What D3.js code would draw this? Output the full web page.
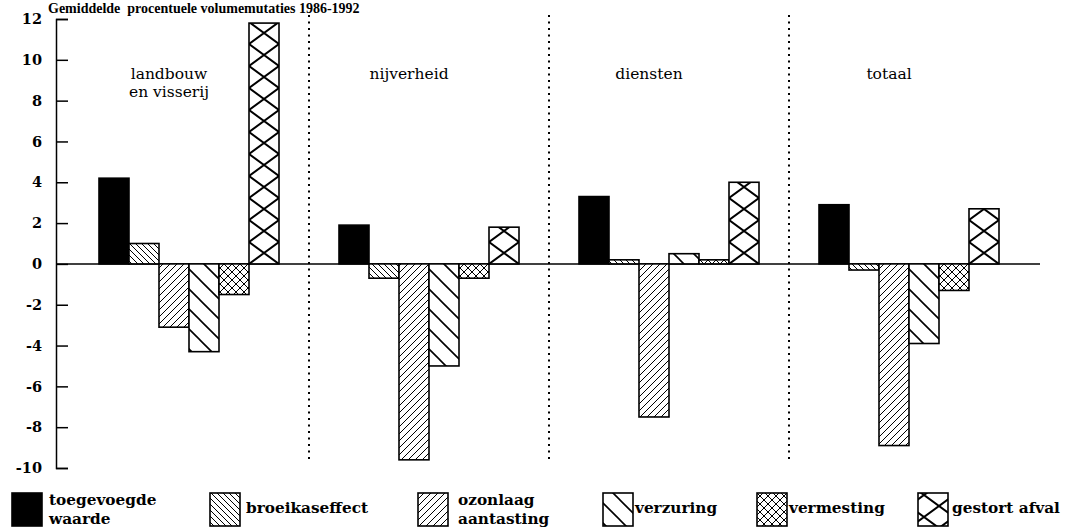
<!DOCTYPE html>
<html>
<head>
<meta charset="utf-8">
<script src="https://cdn.jsdelivr.net/npm/d3@7/dist/d3.min.js"></script>
<style>
  html, body { margin: 0; padding: 0; background: #fff; }
  svg { display: block; }
</style>
</head>
<body>
<svg id="chart" width="1065" height="529"></svg>
<script>
// ---- data ----
const title = "Gemiddelde  procentuele volumemutaties 1986-1992";
const groups = ["landbouw", "nijverheid", "diensten", "totaal"];
const groupLabels = [["landbouw", "en visserij"], ["nijverheid"], ["diensten"], ["totaal"]];
const series = ["toegevoegde waarde", "broeikaseffect", "ozonlaag aantasting", "verzuring", "vermesting", "gestort afval"];
const seriesLabels = [["toegevoegde", "waarde"], ["broeikaseffect"], ["ozonlaag", "aantasting"], ["verzuring"], ["vermesting"], ["gestort afval"]];
const toegevoegdeWaarde = [4.2, 1.9, 3.3, 2.9];
const broeikaseffect    = [1.0, -0.7, 0.2, -0.3];
const ozonlaag          = [-3.1, -9.6, -7.5, -8.9];
const verzuring         = [-4.3, -5.0, 0.5, -3.9];
const vermesting        = [-1.5, -0.7, 0.2, -1.3];
const gestortAfval      = [11.8, 1.8, 4.0, 2.7];
const seriesValues = [toegevoegdeWaarde, broeikaseffect, ozonlaag, verzuring, vermesting, gestortAfval];
const yTicks = [12, 10, 8, 6, 4, 2, 0, -2, -4, -6, -8, -10];

// ---- layout ----
const svg = d3.select("#chart");
const axisX = 56, plotRight = 1040;
const y = d3.scaleLinear().domain([-10, 12]).range([468, 19]);
const x0 = d3.scaleBand().domain(groups).range([69, 1029]);
const barW = 30;
const x1 = d3.scaleBand().domain(series)
  .range([(x0.bandwidth() - barW * series.length) / 2, (x0.bandwidth() + barW * series.length) / 2]);

const serif = "'DejaVu Serif', serif";

// ---- patterns ----
const defs = svg.append("defs");
function pat(id, w, h, d, sw, xoff) {
  const p = defs.append("pattern").attr("id", id)
    .attr("patternUnits", "userSpaceOnUse").attr("width", w).attr("height", h)
    .attr("x", xoff || 0).attr("y", 0);
  p.append("rect").attr("width", w).attr("height", h).attr("fill", "#fff");
  p.append("path").attr("d", d).attr("stroke", "#000").attr("stroke-width", sw).attr("fill", "none");
}
pat("p-broei", 6, 6, "M0,0L6,6M-1,5L1,7M5,-1L7,1", 1);
pat("p-ozon", 7, 7, "M0,7L7,0M-1,1L1,-1M6,8L8,6", 1);
pat("p-verz", 20, 20, "M0,0L20,20M-2,18L2,22M18,-2L22,2", 1.6);
pat("p-verm", 8, 8, "M0,0L8,8M8,0L0,8", 1);
const gx = x0(groups[0]) + x1(series[5]);
pat("p-gest", 30, 22, "M0,0L30,22M30,0L0,22", 2, gx);
const fills = ["#000", "url(#p-broei)", "url(#p-ozon)", "url(#p-verz)", "url(#p-verm)", "url(#p-gest)"];

// ---- title ----
svg.append("text").attr("x", 48).attr("y", 13)
  .attr("font-family", "'Liberation Serif', serif").attr("font-weight", "bold")
  .attr("font-size", 14).attr("xml:space", "preserve").text(title);

// ---- dotted separators ----
groups.slice(1).forEach(g => {
  svg.append("line").attr("x1", x0(g)).attr("x2", x0(g)).attr("y1", 15).attr("y2", 460)
    .attr("stroke", "#000").attr("stroke-width", 2).attr("stroke-dasharray", "2,4.5");
});

// ---- zero line ----
svg.append("line").attr("x1", axisX).attr("x2", plotRight).attr("y1", y(0)).attr("y2", y(0))
  .attr("stroke", "#000").attr("stroke-width", 1.5);

// ---- y axis ----
const yAxis = d3.axisLeft(y).tickValues(yTicks).tickFormat(d => String(d))
  .tickSizeInner(-12).tickSizeOuter(-12).tickPadding(14);
const ag = svg.append("g").attr("transform", `translate(${axisX},0)`).call(yAxis);
ag.selectAll("path, line").attr("stroke", "#000").attr("stroke-width", 1.5);
ag.selectAll("text").attr("font-family", serif).attr("font-weight", "bold")
  .attr("font-size", 14.5).attr("fill", "#000");

// ---- group labels ----
groups.forEach((g, i) => {
  const cx = x0(g) + x0.bandwidth() / 2 - 20;
  groupLabels[i].forEach((t, j) => {
    svg.append("text").attr("x", cx).attr("y", 79 + j * 18).attr("text-anchor", "middle")
      .attr("font-family", serif).attr("font-size", 15.5).text(t);
  });
});

// ---- bars ----
groups.forEach((g, gi) => {
  series.forEach((s, si) => {
    const v = seriesValues[si][gi];
    svg.append("rect")
      .attr("x", x0(g) + x1(s)).attr("width", x1.bandwidth())
      .attr("y", y(Math.max(0, v))).attr("height", Math.abs(y(v) - y(0)))
      .attr("fill", fills[si]).attr("stroke", "#000").attr("stroke-width", 1.6);
  });
});

// ---- legend ----
const legendX = [12, 210, 418, 603, 757, 918];
const legendGap = [7, 6, 10, 2, 2, 4];
series.forEach((s, i) => {
  svg.append("rect").attr("x", legendX[i]).attr("y", 493).attr("width", 30).attr("height", 33)
    .attr("fill", fills[i]).attr("stroke", "#000").attr("stroke-width", 1.6);
  const lines = seriesLabels[i];
  lines.forEach((t, j) => {
    svg.append("text").attr("x", legendX[i] + 30 + legendGap[i])
      .attr("y", lines.length === 2 ? 505 + j * 19 : 513)
      .attr("font-family", serif).attr("font-weight", "bold").attr("font-size", 15.3).text(t);
  });
});
</script>
</body>
</html>
